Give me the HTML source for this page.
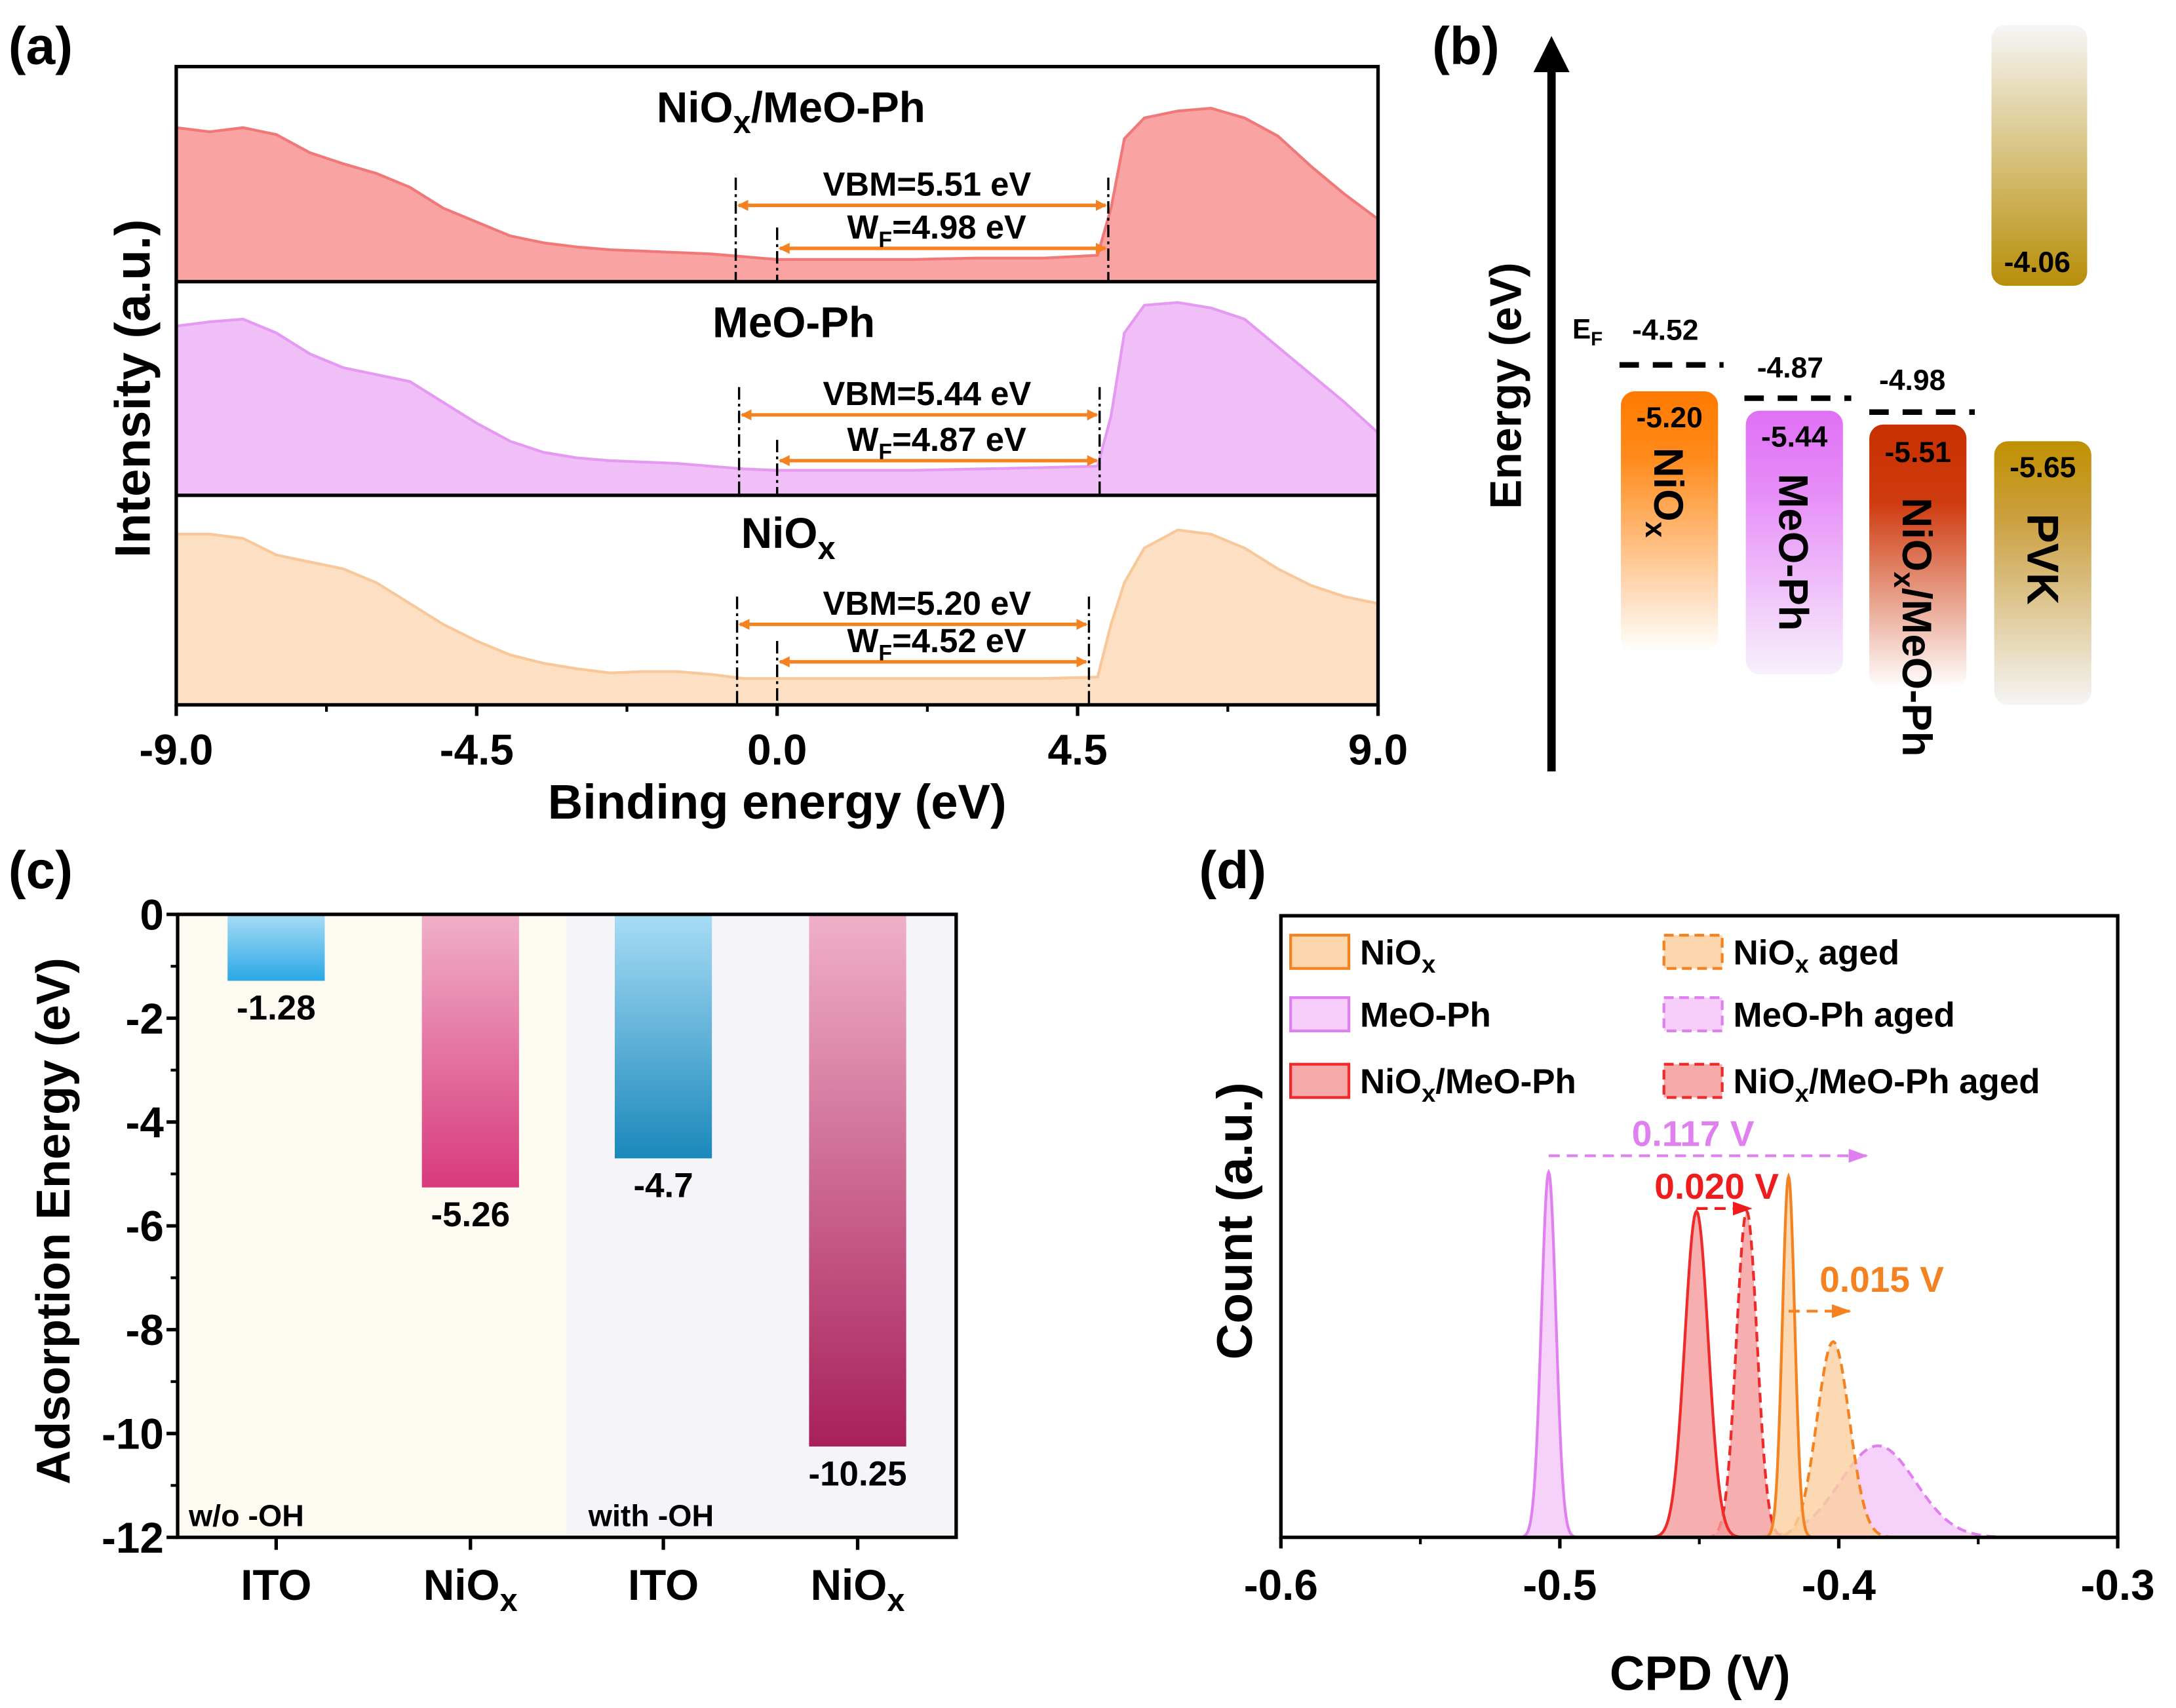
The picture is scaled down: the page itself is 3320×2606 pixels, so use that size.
<!DOCTYPE html>
<html><head><meta charset="utf-8">
<style>
html,body{margin:0;padding:0;background:#fff;}
svg{display:block;font-family:"Liberation Sans",sans-serif;font-weight:bold;}
</style></head>
<body>
<svg id="fig" width="3320" height="2606" viewBox="0 0 1568 1231" preserveAspectRatio="none" xmlns="http://www.w3.org/2000/svg">
<defs>
  <linearGradient id="gNiO" x1="0" y1="0" x2="0" y2="1"><stop offset="0" stop-color="#ff7a00"/><stop offset="0.25" stop-color="#ff8a1a"/><stop offset="1" stop-color="#ffffff"/></linearGradient>
  <linearGradient id="gMeO" x1="0" y1="0" x2="0" y2="1"><stop offset="0" stop-color="#e070f5"/><stop offset="0.3" stop-color="#e68cf7"/><stop offset="1" stop-color="#f8f0fc"/></linearGradient>
  <linearGradient id="gNM" x1="0" y1="0" x2="0" y2="1"><stop offset="0" stop-color="#c83000"/><stop offset="0.3" stop-color="#cf3c10"/><stop offset="1" stop-color="#ffffff"/></linearGradient>
  <linearGradient id="gPVKc" x1="0" y1="0" x2="0" y2="1"><stop offset="0" stop-color="#f6f6f6"/><stop offset="1" stop-color="#b88e08"/></linearGradient>
  <linearGradient id="gPVKv" x1="0" y1="0" x2="0" y2="1"><stop offset="0" stop-color="#c09000"/><stop offset="0.3" stop-color="#cba040"/><stop offset="1" stop-color="#f5f5f5"/></linearGradient>
  <linearGradient id="gITO1" x1="0" y1="0" x2="0" y2="1"><stop offset="0" stop-color="#a8dcf5"/><stop offset="1" stop-color="#2aa8e6"/></linearGradient>
  <linearGradient id="gNi1" x1="0" y1="0" x2="0" y2="1"><stop offset="0" stop-color="#f0b0c8"/><stop offset="1" stop-color="#d83a7c"/></linearGradient>
  <linearGradient id="gITO2" x1="0" y1="0" x2="0" y2="1"><stop offset="0" stop-color="#a8dcf5"/><stop offset="1" stop-color="#1a88bb"/></linearGradient>
  <linearGradient id="gNi2" x1="0" y1="0" x2="0" y2="1"><stop offset="0" stop-color="#f0b0c8"/><stop offset="1" stop-color="#a8205a"/></linearGradient>
  <marker id="arO" markerWidth="8" markerHeight="8" refX="7" refY="4" orient="auto-start-reverse" markerUnits="userSpaceOnUse"><path d="M0,0 L8,4 L0,8 Z" fill="#f58220"/></marker>
  <marker id="arV" markerWidth="14" markerHeight="10" refX="13" refY="5" orient="auto" markerUnits="userSpaceOnUse"><path d="M0,0 L14,5 L0,10 Z" fill="#e080f0"/></marker>
  <marker id="arR" markerWidth="14" markerHeight="10" refX="13" refY="5" orient="auto" markerUnits="userSpaceOnUse"><path d="M0,0 L14,5 L0,10 Z" fill="#ee1c1c"/></marker>
  <marker id="arD" markerWidth="14" markerHeight="10" refX="13" refY="5" orient="auto" markerUnits="userSpaceOnUse"><path d="M0,0 L14,5 L0,10 Z" fill="#f58220"/></marker>
</defs>

<text x="6" y="46" font-size="38">(a)</text>
<text x="1032" y="46" font-size="38">(b)</text>
<text x="6" y="640" font-size="38">(c)</text>
<text x="864" y="640" font-size="38">(d)</text>

<g id="pa"></g>
<g id="pb">
  <line x1="1118" y1="556" x2="1118" y2="48" stroke="#000" stroke-width="6"/>
  <path d="M1105,52 L1118,26 L1131,52 Z" fill="#000"/>
  <text transform="translate(1096,278) rotate(-90)" text-anchor="middle" font-size="32">Energy (eV)</text>

  <rect x="1168" y="282" width="70" height="188" rx="10" fill="url(#gNiO)"/>
  <text x="1203" y="308" text-anchor="middle" font-size="21">-5.20</text>
  <text transform="translate(1192,355) rotate(90)" text-anchor="middle" font-size="30">NiO<tspan font-size="21" dy="6">x</tspan></text>

  <rect x="1258" y="296" width="70" height="190" rx="10" fill="url(#gMeO)"/>
  <text x="1293" y="322" text-anchor="middle" font-size="21">-5.44</text>
  <text transform="translate(1282,398) rotate(90)" text-anchor="middle" font-size="30">MeO-Ph</text>

  <rect x="1347" y="306" width="70" height="190" rx="10" fill="url(#gNM)"/>
  <text x="1382" y="333" text-anchor="middle" font-size="21">-5.51</text>
  <text transform="translate(1371,452) rotate(90)" text-anchor="middle" font-size="30">NiO<tspan font-size="21" dy="6">x</tspan><tspan dy="-6">/MeO-Ph</tspan></text>

  <rect x="1435" y="18" width="69" height="188" rx="10" fill="url(#gPVKc)"/>
  <text x="1468" y="196" text-anchor="middle" font-size="21">-4.06</text>
  <rect x="1437" y="318" width="70" height="190" rx="10" fill="url(#gPVKv)"/>
  <text x="1472" y="344" text-anchor="middle" font-size="21">-5.65</text>
  <text transform="translate(1461,403) rotate(90)" text-anchor="middle" font-size="32">PVK</text>

  <text x="1133" y="244" font-size="20">E<tspan font-size="14" dy="5">F</tspan></text>
  <line x1="1167" y1="263" x2="1242" y2="263" stroke="#000" stroke-width="4" stroke-dasharray="14,10"/>
  <text x="1200" y="245" text-anchor="middle" font-size="21">-4.52</text>
  <line x1="1257" y1="287" x2="1334" y2="287" stroke="#000" stroke-width="4" stroke-dasharray="14,10"/>
  <text x="1290" y="272" text-anchor="middle" font-size="21">-4.87</text>
  <line x1="1347" y1="297" x2="1423" y2="297" stroke="#000" stroke-width="4" stroke-dasharray="14,10"/>
  <text x="1378" y="281" text-anchor="middle" font-size="21">-4.98</text>
</g>
<g id="pc"></g>
<g id="pd"></g>

<script>
// ===== Panel (a) data =====
const upsEnergy = [-9,-8.5,-8,-7.5,-7,-6.5,-6,-5.5,-5,-4.5,-4,-3.5,-3,-2.5,-2,-1.5,-1,-0.5,0,1,2,3,4,4.8,5.0,5.2,5.5,6,6.5,7,7.5,8,8.5,9];
const upsNiOxMeO = [111,108,111,106,93,85,78,68,53,43,33,28,25,23,22,21,20,18,16,16,16,17,17,19,53,103,118,123,125,118,105,83,63,45];
const upsMeO = [122,125,127,117,102,92,87,82,67,52,39,31,27,25,24,23,21,19,18,18,18,19,20,21,57,117,137,139,135,127,107,87,67,45];
const upsNiOx = [123,123,120,108,103,98,88,73,58,46,36,30,26,23,24,24,22,19,19,19,19,19,19,20,58,88,113,126,123,113,98,86,78,73];
const upsTicks = [-9.0,-4.5,0.0,4.5,9.0];
const upsVBMStart = [-0.62,-0.57,-0.6];
const upsEdge = [4.96,4.83,4.67];
const upsVBMText = ["VBM=5.51 eV","VBM=5.44 eV","VBM=5.20 eV"];
const upsWFText = ["=4.98 eV","=4.87 eV","=4.52 eV"];

// ===== Panel (c) data =====
const adsCategories = ["ITO","NiOx","ITO","NiOx"];
const adsValues = [-1.28,-5.26,-4.7,-10.25];
const adsLabels = ["-1.28","-5.26","-4.7","-10.25"];
const adsTicks = [0,-2,-4,-6,-8,-10,-12];

// ===== Panel (d) data =====
const cpdSeries = ["NiOx","MeO-Ph","NiOx/MeO-Ph","NiOx aged","MeO-Ph aged","NiOx/MeO-Ph aged"];
const cpdCenter = [-0.418,-0.504,-0.451,-0.402,-0.386,-0.433];
const cpdHeight = [260,263,235,141,66,235];
const cpdSigma = [0.0022,0.0026,0.0042,0.0058,0.0135,0.0037];
const cpdTicks = [-0.6,-0.5,-0.4,-0.3];

const NS = "http://www.w3.org/2000/svg";
function el(tag, parent, attrs, text){
  const e = document.createElementNS(NS, tag);
  for (const k in attrs) e.setAttribute(k, attrs[k]);
  if (text !== undefined) e.textContent = text;
  parent.appendChild(e);
  return e;
}
// segs: [[string, isSub], ...]
function rich(t, segs, subSize, shift){
  let prevSub = false;
  segs.forEach(s => {
    const ts = document.createElementNS(NS, 'tspan');
    ts.textContent = s[0];
    if (s[1]) { ts.setAttribute('font-size', subSize); ts.setAttribute('dy', shift); }
    else if (prevSub) { ts.setAttribute('dy', -shift); }
    prevSub = s[1];
    t.appendChild(ts);
  });
}

// ---------- Panel a ----------
(function(){
  const g = document.getElementById('pa');
  const L=127, R=993, T=48, B=508;
  const xa = e => L + (e + 9) / 18 * (R - L);
  const bottoms = [203, 357, 508];
  const fills = ['#f9a3a3','#f0bff8','#fde0c4'];
  const strokes = ['#f07878','#e59af2','#f8c89a'];
  const series = [upsNiOxMeO, upsMeO, upsNiOx];
  const names = ['nio-meo-spectrum','meo-spectrum','nio-spectrum'];
  series.forEach((s, i) => {
    let d = 'M' + xa(upsEnergy[0]) + ',' + bottoms[i];
    s.forEach((v, j) => { d += ' L' + xa(upsEnergy[j]).toFixed(1) + ',' + (bottoms[i] - v); });
    d += ' L' + xa(upsEnergy[upsEnergy.length-1]) + ',' + bottoms[i] + ' Z';
    const p = el('path', g, {d: d, fill: fills[i], stroke: strokes[i], 'stroke-width': 2});
    
    
  });
  const fr = el('rect', g, {x:L, y:T, width:R-L, height:B-T, fill:'none', stroke:'#000', 'stroke-width':2.5});
  
  
  [203, 357].forEach(y => {
    const ln = el('line', g, {x1:L, y1:y, x2:R, y2:y, stroke:'#000', 'stroke-width':2.5});
    
    
  });
  upsTicks.forEach(t => {
    const tk = el('line', g, {x1:xa(t), y1:B, x2:xa(t), y2:B+8, stroke:'#000', 'stroke-width':2.5});
    
    
    const tl = el('text', g, {x:xa(t), y:B+43, 'text-anchor':'middle', 'font-size':31}, t.toFixed(1));
    
    
  });
  for (let t = -6.75; t <= 6.75; t += 4.5) {
    const mt = el('line', g, {x1:xa(t), y1:B, x2:xa(t), y2:B+5, stroke:'#000', 'stroke-width':2});
    
    
  }
  const xt = el('text', g, {x:560, y:590, 'text-anchor':'middle', 'font-size':35}, 'Binding energy (eV)');
  
  
  const yt = el('text', g, {transform:'translate(108,280) rotate(-90)', 'text-anchor':'middle', 'font-size':36}, 'Intensity (a.u.)');
  
  
  const tA = el('text', g, {x:570, y:88, 'text-anchor':'middle', 'font-size':31});
  rich(tA, [['NiO',false],['x',true],['/MeO-Ph',false]], 23, 8);
  
  
  const tB = el('text', g, {x:572, y:243, 'text-anchor':'middle', 'font-size':31}, 'MeO-Ph');
  
  
  const tC = el('text', g, {x:568, y:395, 'text-anchor':'middle', 'font-size':31});
  rich(tC, [['NiO',false],['x',true]], 23, 8);
  
  
  const vbmY = [148, 299, 450], wfY = [179, 332, 477];
  for (let i = 0; i < 3; i++) {
    const x1 = xa(upsVBMStart[i]), x0 = xa(0), x2 = xa(upsEdge[i]);
    [[x1, vbmY[i]-20],[x0, wfY[i]-15],[x2, vbmY[i]-20]].forEach(p => {
      const v = el('line', g, {x1:p[0], y1:p[1], x2:p[0], y2:bottoms[i], stroke:'#000', 'stroke-width':1.6, 'stroke-dasharray':'9,3,2,3'});
      
      
    });
    const a1 = el('line', g, {x1:x1+2, y1:vbmY[i], x2:x2-2, y2:vbmY[i], stroke:'#f58220', 'stroke-width':2.5, 'marker-start':'url(#arO)', 'marker-end':'url(#arO)'});
    
    
    const a2 = el('line', g, {x1:x0+2, y1:wfY[i], x2:x2-2, y2:wfY[i], stroke:'#f58220', 'stroke-width':2.5, 'marker-start':'url(#arO)', 'marker-end':'url(#arO)'});
    
    
    const t1 = el('text', g, {x:668, y:vbmY[i]-7, 'text-anchor':'middle', 'font-size':24}, upsVBMText[i]);
    
    
    const t2 = el('text', g, {x:675, y:wfY[i]-7, 'text-anchor':'middle', 'font-size':24});
    rich(t2, [['W',false],['F',true],[upsWFText[i],false]], 16, 6);
    
    
  }
})();

// ---------- Panel c ----------
(function(){
  const g = document.getElementById('pc');
  const L=128, R=689, T=659, B=1108;
  const yc = v => T + (-v) / 12 * (B - T);
  const bg1 = el('rect', g, {x:L, y:T, width:408-L, height:B-T, fill:'#fdfaf1'});
  
  
  const bg2 = el('rect', g, {x:408, y:T, width:R-408, height:B-T, fill:'#f5f4f9'});
  
  
  const centers = [199, 339, 478, 618];
  const grads = ['gITO1','gNi1','gITO2','gNi2'];
  adsValues.forEach((v, i) => {
    const b = el('rect', g, {x:centers[i]-35, y:yc(0), width:70, height:yc(v)-yc(0), fill:'url(#' + grads[i] + ')'});
    
    
    const t = el('text', g, {x:centers[i], y:yc(v)+28, 'text-anchor':'middle', 'font-size':25}, adsLabels[i]);
    
    
    const tk = el('line', g, {x1:centers[i], y1:B, x2:centers[i], y2:B+9, stroke:'#000', 'stroke-width':2.5});
    
    
    const cl = el('text', g, {x:centers[i], y:1153, 'text-anchor':'middle', 'font-size':31});
    if (adsCategories[i] === 'NiOx') rich(cl, [['NiO',false],['x',true]], 23, 8);
    else cl.textContent = adsCategories[i];
    
    
  });
  const fr = el('rect', g, {x:L, y:T, width:R-L, height:B-T, fill:'none', stroke:'#000', 'stroke-width':2.5});
  
  
  adsTicks.forEach(t => {
    const tk = el('line', g, {x1:L-8, y1:yc(t), x2:L, y2:yc(t), stroke:'#000', 'stroke-width':2.5});
    
    
    const tl = el('text', g, {x:L-10, y:yc(t)+11, 'text-anchor':'end', 'font-size':31}, String(t));
    
    
  });
  for (let t = -1; t > -12; t -= 2) {
    const mt = el('line', g, {x1:L-5, y1:yc(t), x2:L, y2:yc(t), stroke:'#000', 'stroke-width':2});
    
    
  }
  const yt = el('text', g, {transform:'translate(50,880) rotate(-90)', 'text-anchor':'middle', 'font-size':34}, 'Adsorption Energy (eV)');
  
  
  const r1 = el('text', g, {x:136, y:1100, 'font-size':22}, 'w/o -OH');
  
  
  const r2 = el('text', g, {x:424, y:1100, 'font-size':22}, 'with -OH');
  
  
})();

// ---------- Panel d ----------
(function(){
  const g = document.getElementById('pd');
  const L=923, R=1526, T=660, B=1108;
  const xd = v => L + (v + 0.6) / 0.3 * (R - L);
  const fills = ['#fbcf9f','#f4c6f8','#f59a9a','#fbcf9f','#f4c6f8','#f59a9a'];
  const strokes = ['#f58220','#e080f0','#ee2a2a','#f58220','#e080f0','#ee2a2a'];
  const order = [4,3,5,1,2,0];
  order.forEach(i => {
    const c = cpdCenter[i], h = cpdHeight[i], s = cpdSigma[i];
    let d = 'M' + xd(c - 4*s).toFixed(1) + ',' + B;
    for (let k = -40; k <= 40; k++) {
      const x = c + k/10 * s;
      d += ' L' + xd(x).toFixed(2) + ',' + (B - h * Math.exp(-0.5 * (k/10) * (k/10))).toFixed(2);
    }
    d += ' Z';
    const attrs = {d: d, fill: fills[i], 'fill-opacity': 0.8, stroke: strokes[i], 'stroke-width': 2};
    if (i >= 3) attrs['stroke-dasharray'] = '7,4';
    const p = el('path', g, attrs);
    
    
  });
  const fr = el('rect', g, {x:L, y:T, width:R-L, height:B-T, fill:'none', stroke:'#000', 'stroke-width':2.5});
  
  
  cpdTicks.forEach(t => {
    const tk = el('line', g, {x1:xd(t), y1:B, x2:xd(t), y2:B+8, stroke:'#000', 'stroke-width':2.5});
    
    
    const tl = el('text', g, {x:xd(t), y:1153, 'text-anchor':'middle', 'font-size':31}, t.toFixed(1));
    
    
  });
  [-0.55,-0.45,-0.35].forEach(t => {
    const mt = el('line', g, {x1:xd(t), y1:B, x2:xd(t), y2:B+5, stroke:'#000', 'stroke-width':2});
    
    
  });
  const xt = el('text', g, {x:1225, y:1218, 'text-anchor':'middle', 'font-size':35}, 'CPD (V)');
  
  
  const yt = el('text', g, {transform:'translate(902,880) rotate(-90)', 'text-anchor':'middle', 'font-size':36}, 'Count (a.u.)');
  
  
  const legX = [930, 1199], legY = [686, 731, 779];
  const legSegs = [
    [['NiO',false],['x',true]],
    [['MeO-Ph',false]],
    [['NiO',false],['x',true],['/MeO-Ph',false]]
  ];
  const legSegsAged = [
    [['NiO',false],['x',true],[' aged',false]],
    [['MeO-Ph aged',false]],
    [['NiO',false],['x',true],['/MeO-Ph  aged',false]]
  ];
  for (let r = 0; r < 3; r++) {
    for (let c = 0; c < 2; c++) {
      const i = c * 3 + r;
      const attrs = {x:legX[c], y:legY[r]-12, width:42, height:24, fill:fills[i], 'fill-opacity':0.85, stroke:strokes[i], 'stroke-width':2};
      if (c === 1) attrs['stroke-dasharray'] = '7,4';
      const sw = el('rect', g, attrs);
      
      
      const tx = el('text', g, {x:legX[c]+50, y:legY[r]+9, 'font-size':25});
      rich(tx, c === 0 ? legSegs[r] : legSegsAged[r], 18, 6);
      
      
    }
  }
  const shifts = [
    {txt:'0.117 V', col:'#e080f0', mk:'arV', x1:xd(cpdCenter[1]), x2:xd(cpdCenter[4])-8, y:833, tx:1220, ty:826},
    {txt:'0.020 V', col:'#ee1c1c', mk:'arR', x1:xd(cpdCenter[2]), x2:xd(cpdCenter[5])+3, y:871, tx:1237, ty:864},
    {txt:'0.015 V', col:'#f58220', mk:'arD', x1:xd(cpdCenter[0]), x2:xd(cpdCenter[3])+12, y:945, tx:1356, ty:931}
  ];
  shifts.forEach(s => {
    const a = el('line', g, {x1:s.x1, y1:s.y, x2:s.x2, y2:s.y, stroke:s.col, 'stroke-width':2, 'stroke-dasharray':'8,5', 'marker-end':'url(#' + s.mk + ')'});
    
    
    const t = el('text', g, {x:s.tx, y:s.ty, 'text-anchor':'middle', 'font-size':26, fill:s.col}, s.txt);
    
    
  });
})();
</script>
</svg>
</body></html>
